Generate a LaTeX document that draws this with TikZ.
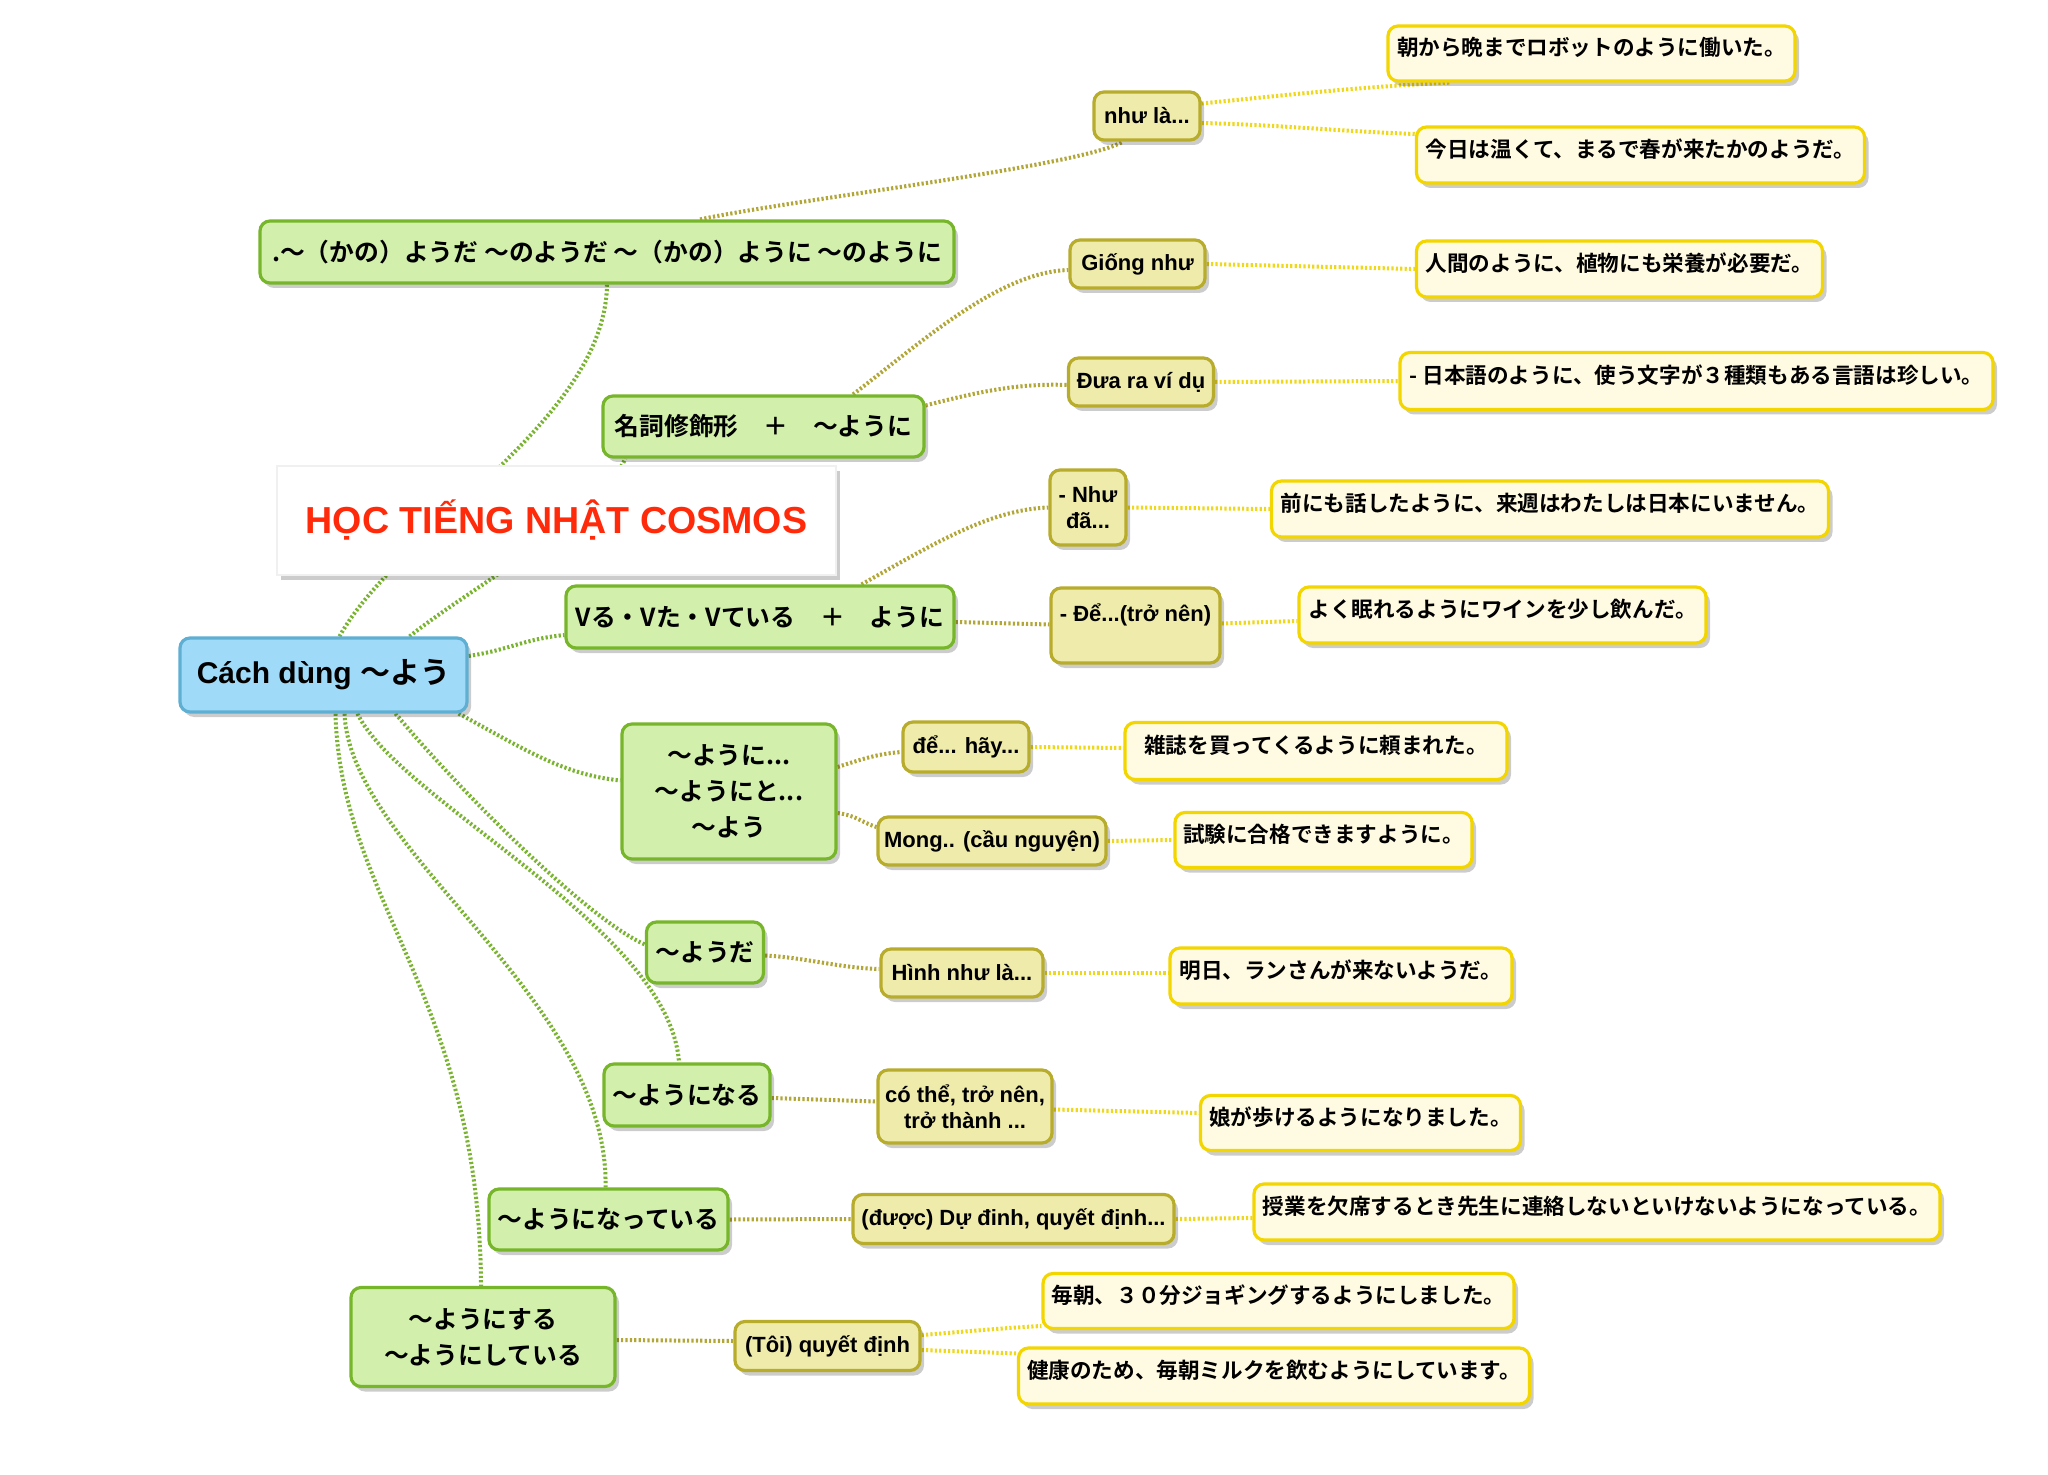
\documentclass[tikz,border=0pt]{standalone}
\usepackage{fontspec}
\setmainfont{Liberation Sans}
\newfontfamily\jp{Noto Sans CJK JP}[BoldFont={Noto Sans CJK JP Bold}]
\usetikzlibrary{calc,shadows,backgrounds}

\definecolor{hubfill}{HTML}{A0DAF9}
\definecolor{hubline}{HTML}{5FAFD3}
\definecolor{patfill}{HTML}{D2F0AB}
\definecolor{patline}{HTML}{77B62B}
\definecolor{meanfill}{HTML}{EFEBAB}
\definecolor{meanline}{HTML}{B8AC2C}
\definecolor{exfill}{HTML}{FFFBE2}
\definecolor{exline}{HTML}{F3D500}
\definecolor{stemgreen}{HTML}{79B32F}
\definecolor{brancholive}{HTML}{B2A637}
\definecolor{twigyellow}{HTML}{EFD81A}
\definecolor{bannerred}{HTML}{FF2A0A}

\begin{document}
\begin{tikzpicture}[x=0.5pt,y=-0.5pt,
  box/.style={rounded corners=5pt, line width=1.6pt, align=center, inner sep=2pt,
    drop shadow={shadow xshift=2pt,shadow yshift=-2.5pt,opacity=.2,fill=black}},
  hub/.style={box, fill=hubfill, draw=hubline, font=\fontsize{15}{18}\selectfont\bfseries},
  banner/.style={box, sharp corners, fill=white, draw=black!6, line width=.6pt, text=bannerred,
    font=\fontsize{18.8}{22}\selectfont\bfseries},
  pattern/.style={box, fill=patfill, draw=patline, font=\jp\fontsize{12.4}{18}\selectfont\bfseries},
  meaning/.style={box, fill=meanfill, draw=meanline, font=\fontsize{11}{13}\selectfont\bfseries},
  sample/.style={box, fill=exfill, draw=exline, text depth=7pt, font=\jp\fontsize{10.8}{13}\selectfont\bfseries},
  stem/.style={draw=stemgreen, line width=2pt, dash pattern=on 1.1pt off 1.1pt},
  branch/.style={draw=brancholive, line width=2pt, dash pattern=on 1.1pt off 1.1pt},
  twig/.style={draw=twigyellow, line width=2pt, dash pattern=on 1.1pt off 1.1pt}]
\useasboundingbox (0,0) rectangle (2048,1475);

\node[hub, minimum width=143.5pt, minimum height=37pt] (hub) at (323.5,675) {Cách dùng {\jp ～よう}};
\node[banner, minimum width=279.5pt, minimum height=54.5pt] (banner) at (556.5,520.5) {HỌC TIẾNG NHẬT COSMOS};

\node[pattern, minimum width=347pt, minimum height=31pt] (kano) at (607,252) {.～（かの）ようだ ～のようだ ～（かの）ように ～のように};
\node[pattern, minimum width=160.5pt, minimum height=30.5pt] (meishi) at (763.5,426.5) {名詞修飾形　＋　～ように};
\node[pattern, minimum width=194pt, minimum height=31pt] (vru) at (760,617) {Vる・Vた・Vている　＋　ように};
\node[pattern, minimum width=107pt, minimum height=67.5pt] (youni) at (729,791.5) {～ように...\\～ようにと...\\～よう};
\node[pattern, minimum width=58.5pt, minimum height=30.5pt] (youda) at (705,952.5) {～ようだ};
\node[pattern, minimum width=83pt, minimum height=31pt] (youninaru) at (687,1095) {～ようになる};
\node[pattern, minimum width=119.5pt, minimum height=30.5pt] (youninatteiru) at (608.5,1219.5) {～ようになっている};
\node[pattern, minimum width=132pt, minimum height=49.5pt] (younisuru) at (483,1337) {～ようにする\\～ようにしている};

\node[meaning, minimum width=53pt, minimum height=24pt] (nhula) at (1147,116) {như là...};
\node[meaning, minimum width=67.5pt, minimum height=24pt] (giong) at (1137.5,264) {Giống như};
\node[meaning, minimum width=72.5pt, minimum height=24pt] (dua) at (1141,382) {Đưa ra ví dụ};
\node[meaning, minimum width=38pt, minimum height=37.5pt] (nhuda) at (1088,507.5) {- Như\\đã...};
\node[meaning, minimum width=84.5pt, minimum height=37.5pt] (de) at (1135.5,625.5) {- Để...(trở nên)\\\mbox{}};
\node[meaning, minimum width=63pt, minimum height=25pt] (dehay) at (966,747) {để... hãy...};
\node[meaning, minimum width=114pt, minimum height=24pt] (mong) at (992,841) {Mong.. (cầu nguyện)};
\node[meaning, minimum width=81pt, minimum height=24pt] (hinh) at (962,973) {Hình như là...};
\node[meaning, minimum width=87pt, minimum height=36.5pt] (cothe) at (965,1106.5) {có thể, trở nên,\\trở thành ...};
\node[meaning, minimum width=160.5pt, minimum height=24.5pt] (duoc) at (1013.5,1219) {(được) Dự đinh, quyết định...};
\node[meaning, minimum width=92.5pt, minimum height=24.5pt] (toi) at (827.5,1346) {(Tôi) quyết định};

\node[sample, minimum width=203.5pt, minimum height=27.5pt] (asa) at (1591.5,53.5) {朝から晩までロボットのように働いた。};
\node[sample, minimum width=224pt, minimum height=28pt] (kyou) at (1640.5,155) {今日は温くて、まるで春が来たかのようだ。};
\node[sample, minimum width=203pt, minimum height=28pt] (ningen) at (1619.5,269) {人間のように、植物にも栄養が必要だ。};
\node[sample, minimum width=296.5pt, minimum height=28.5pt] (nihongo) at (1696.5,381) {- 日本語のように、使う文字が３種類もある言語は珍しい。};
\node[sample, minimum width=278.5pt, minimum height=28pt] (mae) at (1550,509) {前にも話したように、来週はわたしは日本にいません。};
\node[sample, minimum width=203.5pt, minimum height=28pt] (yoku) at (1502.5,615) {よく眠れるようにワインを少し飲んだ。};
\node[sample, minimum width=191pt, minimum height=28.5pt] (zasshi) at (1316,751) {雑誌を買ってくるように頼まれた。};
\node[sample, minimum width=148.5pt, minimum height=27.5pt] (shiken) at (1323.5,840) {試験に合格できますように。};
\node[sample, minimum width=171pt, minimum height=28pt] (ashita) at (1341,976) {明日、ランさんが来ないようだ。};
\node[sample, minimum width=160pt, minimum height=27.5pt] (musume) at (1360.5,1123) {娘が歩けるようになりました。};
\node[sample, minimum width=343pt, minimum height=28pt] (jugyou) at (1597,1212) {授業を欠席するとき先生に連絡しないといけないようになっている。};
\node[sample, minimum width=235.5pt, minimum height=27.5pt] (maiasa) at (1278.5,1301) {毎朝、３０分ジョギングするようにしました。};
\node[sample, minimum width=255.5pt, minimum height=28pt] (kenkou) at (1274,1376) {健康のため、毎朝ミルクを飲むようにしています。};

\begin{scope}[on background layer]
\fill[white] (0,0) rectangle (2048,1475);

\draw[stem] ($(hub.north)+(16,0)$) .. controls +(60,-108) and +(-2,137) .. (kano.south);
\draw[stem] ($(hub.north)+(86,0)$) .. controls +(60,-48) and +(-30,62) .. ($(meishi.south west)+(24,0)$);
\draw[stem] ($(hub.east)+(0,-19)$) .. controls +(40,-6) and +(-40,4) .. ($(vru.west)+(0,18)$);
\draw[stem] ($(hub.south east)+(-10,0)$) .. controls +(60,32) and +(-60,-6) .. ($(youni.west)+(0,-11)$);
\draw[stem] ($(hub.south)+(72,0)$) .. controls +(65,78) and +(-57,-25) .. ($(youda.west)+(0,-8)$);
\draw[stem] ($(hub.south)+(34,0)$) .. controls +(42,88) and +(-9,-134) .. ($(youninaru.north)+(-8,0)$);
\draw[stem] ($(hub.south)+(21,0)$) .. controls +(6,138) and +(4,-189) .. ($(youninatteiru.north)+(-3,0)$);
\draw[stem] ($(hub.south)+(12,0)$) .. controls +(5,188) and +(-1,-288) .. ($(younisuru.north)+(-2,0)$);

\draw[branch] ($(kano.north)+(93,0)$) .. controls +(100,-21) and +(-43,25) .. ($(nhula.south)+(-24,0)$);
\draw[branch] ($(meishi.north)+(89.5,0)$) .. controls +(67,-51) and +(-70,2) .. ($(giong.west)+(0,6)$);
\draw[branch] ($(meishi.east)+(0,-21)$) .. controls +(50,-13) and +(-50,-2) .. ($(dua.west)+(0,3)$);
\draw[branch] ($(vru.north)+(101.5,0)$) .. controls +(68,-38) and +(-60,2) .. (nhuda.west);
\draw[branch] ($(vru.east)+(0,5)$) -- ($(de.west)+(0,-1)$);
\draw[branch] ($(youni.east)+(0,-24.5)$) .. controls +(25,-8) and +(-25,2) .. ($(dehay.west)+(0,5)$);
\draw[branch] ($(youni.east)+(0,21.5)$) .. controls +(20,3) and +(-18,-6) .. ($(mong.west)+(0,-14)$);
\draw[branch] ($(youda.east)+(0,3)$) .. controls +(40,2) and +(-40,-1) .. ($(hinh.west)+(0,-4)$);
\draw[branch] ($(youninaru.east)+(0,3)$) -- ($(cothe.west)+(0,-5)$);
\draw[branch] (youninatteiru.east) -- (duoc.west);
\draw[branch] ($(younisuru.east)+(0,3)$) -- ($(toi.west)+(0,-5)$);

\draw[twig] ($(nhula.east)+(0,-12.5)$) .. controls +(80,-8) and +(-90,4) .. ($(asa.south west)+(65,0)$);
\draw[twig] ($(nhula.east)+(0,7)$) .. controls +(80,2) and +(-80,-3) .. ($(kyou.west)+(0,-21)$);
\draw[twig] (giong.east) -- (ningen.west);
\draw[twig] (dua.east) -- (nihongo.west);
\draw[twig] (nhuda.east) -- (mae.west);
\draw[twig] ($(de.east)+(0,-2)$) -- ($(yoku.west)+(0,6)$);
\draw[twig] (dehay.east) -- ($(zasshi.west)+(0,-3)$);
\draw[twig] (mong.east) -- (shiken.west);
\draw[twig] (hinh.east) -- ($(ashita.west)+(0,-3)$);
\draw[twig] ($(cothe.east)+(0,3)$) -- ($(musume.west)+(0,-10)$);
\draw[twig] (duoc.east) -- ($(jugyou.west)+(0,6)$);
\draw[twig] ($(toi.east)+(0,-11)$) .. controls +(40,-3) and +(-40,2) .. ($(maiasa.west)+(0,25)$);
\draw[twig] ($(toi.east)+(0,4)$) -- ($(kenkou.west)+(0,-22.5)$);
\end{scope}

\end{tikzpicture}
\end{document}
